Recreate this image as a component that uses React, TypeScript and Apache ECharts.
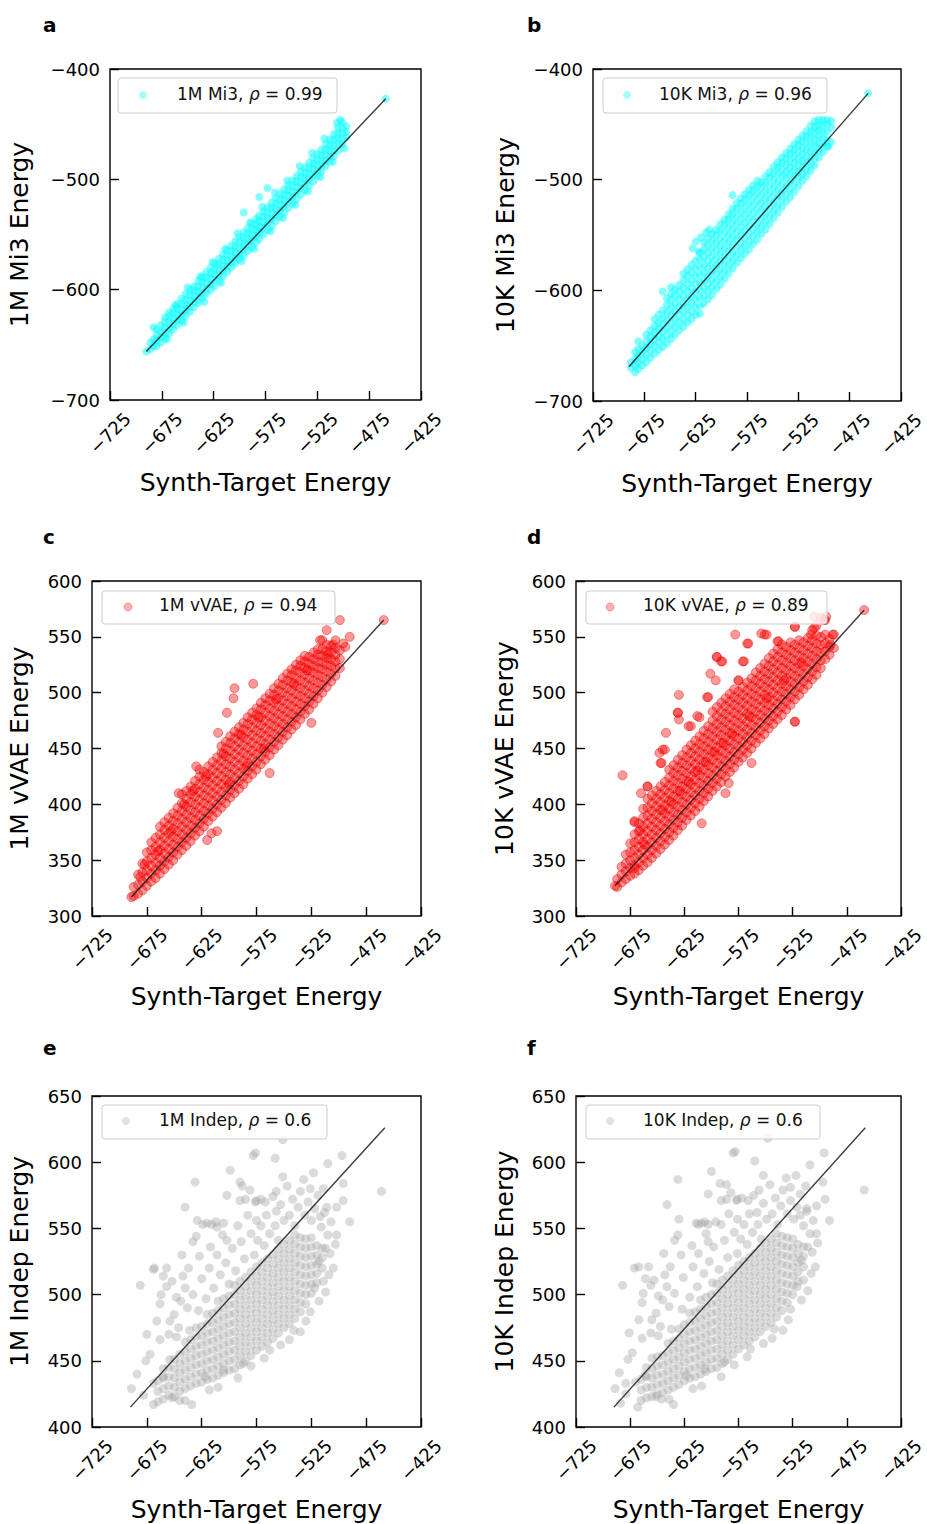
import React, { useEffect, useRef } from "react";
import * as echarts from "echarts";

const FONT = "DejaVu Sans";
const X_MIN = -725;
const X_MAX = -425;
const X_STEP = 50;

// ---------- panel a : 1M Mi3 (rows: [x, y1, y2, ...]) ----------
const mi3_1M_rows: number[][] = [
  [-690, -656], [-686, -654, -648], [-683, -651, -645, -634], [-680, -651, -646, -641, -636],
  [-676, -648, -643, -638, -632], [-672, -644, -639, -634, -629, -625], [-668, -640, -635, -629, -624, -621],
  [-664, -636, -631, -626, -621, -617], [-660, -632, -627, -622, -617, -613], [-656, -628, -623, -618, -613, -608],
  [-652, -624, -619, -614, -609, -604], [-648, -620, -615, -610, -605, -600], [-644, -616, -611, -606, -601, -597],
  [-640, -612, -607, -602, -597, -592], [-636, -608, -603, -598, -593, -588], [-632, -604, -599, -594, -589, -584],
  [-628, -600, -595, -590, -585, -580], [-624, -597, -591, -586, -581, -576], [-620, -592, -587, -582, -577, -572],
  [-616, -588, -583, -578, -573, -568], [-612, -584, -579, -574, -569, -564], [-608, -580, -575, -570, -565, -560],
  [-604, -576, -571, -566, -561, -556], [-600, -572, -567, -562, -557, -552], [-596, -569, -563, -558, -553, -548, -530],
  [-592, -565, -559, -554, -549, -544], [-588, -561, -555, -550, -545, -540], [-584, -557, -551, -546, -541, -536],
  [-581, -554, -548, -543, -538, -533, -516], [-577, -550, -544, -539, -534, -529], [-573, -546, -540, -535, -530, -525, -508],
  [-569, -542, -536, -531, -526, -521], [-565, -538, -532, -527, -522, -517], [-561, -534, -528, -523, -518, -513],
  [-557, -530, -524, -519, -514, -509], [-553, -526, -520, -515, -510, -505], [-549, -522, -516, -511, -506, -501],
  [-545, -518, -512, -507, -502, -497], [-541, -514, -508, -503, -498, -493], [-537, -510, -504, -499, -494, -489],
  [-533, -506, -500, -495, -490, -485], [-529, -502, -496, -491, -486, -481], [-525, -497, -492, -487, -482, -477],
  [-521, -493, -488, -483, -478, -473], [-517, -488, -483, -478, -473, -468], [-513, -484, -479, -474, -469, -464],
  [-509, -479, -474, -469, -464, -459], [-505, -474, -468, -463, -458, -453], [-501, -468, -463, -458, -453, -448],
  [-497, -462, -457, -452], [-459, -427],
];
const mi3_1M_extra: number[][] = [
  [-662, -614], [-650, -598], [-638, -588], [-626, -575], [-614, -563], [-602, -549], [-590, -539], [-578, -525],
  [-566, -512], [-554, -501], [-542, -488], [-530, -476], [-518, -463], [-506, -449], [-503, -446],
  [-670, -645], [-654, -630], [-634, -611], [-618, -594], [-598, -574], [-586, -563], [-570, -547], [-558, -535],
  [-546, -523], [-534, -511], [-522, -498], [-510, -484], [-499, -472],
];
const mi3_1M_fit: number[][] = [[-690, -656], [-459, -427]];

// ---------- panel b : 10K Mi3 ----------
const mi3_10K_rows: number[][] = [
  [-688, -670, -665], [-684, -674, -668, -662, -656], [-681, -671, -665, -659, -653, -646],
  [-677, -668, -662, -656, -650], [-673, -665, -658, -652, -646, -640], [-669, -661, -654, -648, -642, -636],
  [-665, -657, -650, -644, -638, -632, -626], [-661, -654, -647, -641, -635, -629, -622],
  [-657, -651, -644, -637, -631, -625, -618, -601], [-653, -648, -641, -634, -627, -620, -613, -607],
  [-649, -644, -637, -630, -623, -616, -609, -603, -597], [-645, -640, -633, -626, -619, -612, -605, -599],
  [-641, -636, -629, -622, -615, -608, -601, -595], [-637, -633, -626, -619, -612, -605, -598, -591, -585],
  [-633, -629, -622, -615, -608, -601, -594, -587, -581], [-629, -626, -619, -612, -605, -598, -591, -584, -577],
  [-625, -622, -615, -608, -601, -594, -587, -580, -573], [-621, -621, -614, -607, -600, -593, -586, -579, -572, -566],
  [-617, -612, -605, -598, -591, -584, -577, -570, -563, -557], [-613, -608, -601, -594, -587, -580, -573, -566, -559, -553],
  [-609, -604, -597, -590, -583, -576, -569, -562, -555, -549], [-605, -599, -592, -585, -578, -571, -564, -557, -550, -545],
  [-601, -595, -588, -581, -574, -567, -560, -553, -546, -540], [-597, -590, -583, -576, -569, -562, -555, -548, -541, -536],
  [-593, -585, -578, -571, -564, -557, -550, -543, -536, -531], [-589, -580, -573, -566, -559, -552, -545, -538, -531, -526, -514],
  [-585, -575, -568, -561, -554, -547, -540, -533, -526, -521], [-581, -571, -564, -557, -550, -543, -536, -529, -522, -517],
  [-577, -567, -560, -553, -546, -539, -532, -525, -518, -513], [-573, -563, -556, -549, -542, -535, -528, -521, -514, -509],
  [-569, -558, -551, -544, -537, -530, -523, -516, -510, -505], [-565, -554, -547, -540, -533, -526, -519, -512, -506, -501],
  [-561, -549, -542, -535, -528, -521, -514, -507, -502], [-557, -545, -538, -531, -524, -517, -510, -503, -497],
  [-553, -540, -533, -526, -519, -512, -505, -498, -493], [-549, -535, -528, -521, -514, -507, -500, -494, -488],
  [-545, -530, -523, -516, -509, -502, -495, -489, -484], [-541, -525, -518, -511, -504, -497, -491, -485, -480],
  [-537, -520, -513, -506, -499, -493, -487, -481, -476], [-533, -516, -509, -502, -495, -489, -483, -477, -472],
  [-529, -511, -504, -497, -491, -485, -479, -473, -468], [-525, -506, -499, -493, -487, -481, -475, -469, -464],
  [-521, -501, -495, -489, -483, -477, -471, -465, -460], [-517, -497, -491, -485, -479, -473, -467, -461, -456],
  [-513, -492, -486, -480, -474, -468, -462, -457, -451], [-509, -487, -481, -475, -469, -463, -457, -452, -447],
  [-505, -480, -474, -468, -462, -456, -451, -446], [-501, -475, -469, -463, -457, -451, -446],
  [-497, -470, -464, -457, -450, -446], [-493, -466, -453, -447],
];
const mi3_10K_extra: number[][] = [
  [-625, -556], [-620, -552], [-615, -548], [-628, -562], [-612, -545], [-622, -565], [-496, -470], [-457, -422],
];
const mi3_10K_fit: number[][] = [[-690, -669], [-457, -422]];

// ---------- panel c : 1M vVAE ----------
const vvae_1M_rows: number[][] = [
  [-687, 318, 326], [-683, 320, 328, 337], [-679, 323, 331, 339, 347], [-675, 327, 334, 341, 349, 357],
  [-671, 331, 338, 345, 352, 359, 366], [-667, 334, 341, 348, 355, 362, 370], [-663, 338, 345, 352, 359, 366, 373, 380],
  [-659, 342, 349, 356, 363, 370, 377, 384], [-655, 346, 353, 360, 367, 374, 381, 388],
  [-651, 350, 357, 364, 371, 378, 385, 392], [-647, 355, 362, 369, 376, 383, 390, 397],
  [-643, 359, 366, 373, 380, 387, 394, 401, 409], [-639, 363, 370, 377, 384, 391, 398, 405, 412],
  [-635, 367, 374, 381, 388, 395, 402, 409, 416], [-631, 372, 379, 386, 393, 400, 407, 414, 421],
  [-627, 376, 383, 390, 397, 404, 411, 418, 425], [-623, 380, 387, 394, 401, 408, 415, 422, 429],
  [-619, 385, 392, 399, 406, 413, 420, 427, 434], [-615, 389, 396, 403, 410, 417, 424, 431, 438],
  [-611, 393, 400, 407, 414, 421, 428, 435, 442], [-607, 397, 404, 411, 418, 425, 432, 439, 446, 452],
  [-603, 401, 408, 415, 422, 429, 436, 443, 450, 456], [-599, 406, 413, 420, 427, 434, 441, 448, 455, 461],
  [-595, 410, 417, 424, 431, 438, 445, 452, 459, 465], [-591, 414, 421, 428, 435, 442, 449, 456, 463, 469],
  [-587, 418, 425, 432, 439, 446, 453, 460, 467, 473], [-583, 423, 430, 437, 444, 451, 458, 465, 472, 478],
  [-579, 427, 434, 441, 448, 455, 462, 469, 476, 482], [-575, 431, 438, 445, 452, 459, 466, 473, 480, 486],
  [-571, 436, 443, 450, 457, 464, 471, 478, 485, 491], [-567, 440, 447, 454, 461, 468, 475, 482, 489, 495],
  [-563, 444, 451, 458, 465, 472, 479, 486, 493, 499], [-559, 449, 456, 463, 470, 477, 484, 491, 498, 504],
  [-555, 453, 460, 467, 474, 481, 488, 495, 502, 508], [-551, 458, 465, 472, 479, 486, 493, 500, 507, 513],
  [-547, 462, 469, 476, 483, 490, 497, 504, 511, 517], [-543, 467, 474, 481, 488, 495, 502, 509, 516, 521],
  [-539, 471, 478, 485, 492, 499, 506, 513, 520, 525], [-535, 476, 483, 490, 497, 504, 511, 518, 524, 529],
  [-531, 481, 488, 495, 502, 509, 516, 522, 528, 533], [-527, 485, 492, 499, 506, 513, 520, 526, 532],
  [-523, 490, 497, 504, 511, 518, 524, 530, 536], [-519, 495, 502, 509, 516, 522, 528, 534, 539],
  [-515, 500, 507, 514, 521, 527, 533, 539], [-511, 505, 512, 519, 525, 531, 537, 543],
  [-507, 510, 517, 524, 530, 536, 542], [-503, 515, 522, 528, 534, 540, 547], [-499, 522, 530, 538],
];
const vvae_1M_extra: number[][] = [
  [-689, 317], [-681, 335], [-677, 346], [-646, 410], [-627, 431], [-630, 434], [-610, 464], [-602, 482],
  [-595, 504], [-596, 495], [-578, 508], [-611, 376], [-620, 368], [-616, 374], [-563, 428], [-525, 473],
  [-517, 547], [-511, 556], [-499, 565], [-496, 544], [-490, 550], [-494, 541], [-505, 543], [-510, 534],
  [-515, 547], [-459, 565], [-641, 400], [-633, 412], [-621, 425], [-605, 445], [-589, 462], [-573, 478],
  [-557, 494], [-541, 508], [-529, 520], [-653, 376], [-665, 358], [-600, 418], [-584, 434], [-568, 450],
];
const vvae_1M_fit: number[][] = [[-689, 317], [-459, 565]];

// ---------- panel d : 10K vVAE ----------
const vvae_10K_rows: number[][] = [
  [-687, 326, 333], [-683, 330, 337, 344], [-679, 333, 340, 347, 355], [-675, 336, 343, 350, 357, 365],
  [-671, 338, 345, 352, 359, 366, 373, 384], [-667, 341, 348, 355, 362, 369, 376, 383],
  [-663, 345, 352, 359, 366, 373, 380, 388, 396], [-659, 348, 355, 362, 369, 376, 383, 390, 397, 405, 416],
  [-655, 352, 359, 366, 373, 380, 387, 394, 401, 408], [-651, 356, 363, 370, 377, 384, 391, 398, 405, 412],
  [-647, 360, 367, 374, 381, 388, 395, 402, 409, 416, 437], [-643, 364, 371, 378, 385, 392, 399, 406, 413, 420, 449],
  [-639, 368, 375, 382, 389, 396, 403, 410, 417, 424, 431], [-635, 372, 379, 386, 393, 400, 407, 414, 421, 428, 435],
  [-631, 377, 384, 391, 398, 405, 412, 419, 426, 433, 440, 482], [-627, 381, 388, 395, 402, 409, 416, 423, 430, 437, 444],
  [-623, 386, 393, 400, 407, 414, 421, 428, 435, 442, 449], [-619, 390, 397, 404, 411, 418, 425, 432, 439, 446, 453, 470],
  [-615, 394, 401, 408, 415, 422, 429, 436, 443, 450, 457], [-611, 398, 405, 412, 419, 426, 433, 440, 447, 454, 461, 478],
  [-607, 403, 410, 417, 424, 431, 438, 445, 452, 459, 466], [-603, 407, 414, 421, 428, 435, 442, 449, 456, 463, 470, 496],
  [-599, 412, 419, 426, 433, 440, 447, 454, 461, 468, 475, 483], [-595, 416, 423, 430, 437, 444, 451, 458, 465, 472, 479, 487, 532],
  [-591, 420, 427, 434, 441, 448, 455, 462, 469, 476, 483, 491, 528], [-587, 425, 432, 439, 446, 453, 460, 467, 474, 481, 488, 495],
  [-583, 429, 436, 443, 450, 457, 464, 471, 478, 485, 492, 499], [-579, 433, 440, 447, 454, 461, 468, 475, 482, 489, 496, 503],
  [-575, 438, 445, 452, 459, 466, 473, 480, 487, 494, 501, 511], [-571, 442, 449, 456, 463, 470, 477, 484, 491, 498, 505, 528],
  [-567, 446, 453, 460, 467, 474, 481, 488, 495, 502, 509, 544], [-563, 450, 457, 464, 471, 478, 485, 492, 499, 506, 513],
  [-559, 455, 462, 469, 476, 483, 490, 497, 504, 511, 518], [-555, 459, 466, 473, 480, 487, 494, 501, 508, 515, 522],
  [-551, 463, 470, 477, 484, 491, 498, 505, 512, 519, 526, 552], [-547, 468, 475, 482, 489, 496, 503, 510, 517, 524, 531],
  [-543, 472, 479, 486, 493, 500, 507, 514, 521, 528, 535], [-539, 476, 483, 490, 497, 504, 511, 518, 525, 532, 539, 546],
  [-535, 480, 487, 494, 501, 508, 515, 522, 529, 536, 543], [-531, 485, 492, 499, 506, 513, 520, 527, 534, 541],
  [-527, 489, 496, 503, 510, 517, 524, 531, 538, 545], [-523, 494, 501, 508, 515, 522, 529, 536, 543, 559, 474],
  [-519, 498, 505, 512, 519, 526, 533, 540, 547], [-515, 503, 510, 517, 524, 531, 538, 545],
  [-511, 507, 514, 521, 528, 535, 542, 549], [-507, 512, 519, 526, 533, 540, 547, 556],
  [-503, 516, 523, 530, 537, 544, 551, 560], [-499, 522, 529, 536, 543, 550, 567], [-495, 530, 537, 544, 552, 565],
  [-491, 534, 541, 548], [-487, 540, 552],
];
const vvae_10K_extra: number[][] = [
  [-689, 327], [-682, 426], [-671, 385], [-666, 377], [-662, 364], [-671, 343], [-659, 416], [-665, 410],
  [-648, 446], [-646, 437], [-645, 449], [-642, 464], [-631, 482], [-630, 498], [-630, 476], [-621, 470],
  [-613, 479], [-604, 496], [-595, 532], [-590, 528], [-601, 517], [-578, 552], [-566, 544], [-554, 553],
  [-549, 552], [-570, 528], [-575, 511], [-596, 511], [-609, 383], [-587, 410], [-584, 419], [-563, 437],
  [-523, 474], [-508, 552], [-505, 558], [-496, 565], [-488, 552], [-523, 559], [-538, 546], [-490, 543],
  [-505, 568], [-494, 568], [-459, 574], [-645, 395], [-629, 412], [-613, 430], [-597, 447], [-581, 463],
  [-565, 479], [-549, 495], [-533, 511], [-517, 527], [-637, 402], [-621, 420], [-605, 438], [-589, 455],
];
const vvae_10K_fit: number[][] = [[-689, 327], [-459, 574]];

// ---------- panel e : 1M Indep ----------
const indep_1M_rows: number[][] = [
  [-665, 419, 427, 435], [-660, 421, 429, 437, 444], [-655, 424, 431, 438, 445], [-650, 423, 430, 437, 444, 451],
  [-645, 427, 434, 441, 448, 455], [-640, 429, 436, 443, 450, 457, 464], [-635, 431, 438, 445, 452, 459, 466],
  [-630, 433, 440, 447, 454, 461, 468, 475], [-625, 434, 441, 448, 455, 462, 469, 476],
  [-620, 436, 443, 450, 457, 464, 471, 478, 485], [-615, 437, 444, 451, 458, 465, 472, 479, 486],
  [-610, 439, 446, 453, 460, 467, 474, 481, 488, 495], [-605, 441, 448, 455, 462, 469, 476, 483, 490, 497],
  [-600, 443, 450, 457, 464, 471, 478, 485, 492, 499], [-595, 444, 451, 458, 465, 472, 479, 486, 493, 500, 507],
  [-590, 447, 454, 461, 468, 475, 482, 489, 496, 503, 510], [-585, 450, 457, 464, 471, 478, 485, 492, 499, 506, 513],
  [-580, 454, 461, 468, 475, 482, 489, 496, 503, 510, 517], [-575, 458, 465, 472, 479, 486, 493, 500, 507, 514, 521],
  [-570, 461, 468, 475, 482, 489, 496, 503, 510, 517, 524], [-565, 464, 471, 478, 485, 492, 499, 506, 513, 520, 527],
  [-560, 467, 474, 481, 488, 495, 502, 509, 516, 523, 530], [-555, 471, 478, 485, 492, 499, 506, 513, 520, 527, 534],
  [-550, 475, 482, 489, 496, 503, 510, 517, 524, 531, 538], [-545, 478, 485, 492, 499, 506, 513, 520, 527, 534, 541],
  [-540, 482, 489, 496, 503, 510, 517, 524, 531, 538, 545], [-535, 487, 494, 501, 508, 515, 522, 529, 536, 543],
  [-530, 493, 500, 507, 514, 521, 528, 535, 542], [-525, 501, 508, 515, 522, 529, 536, 543],
  [-520, 509, 516, 523, 530, 537], [-515, 520, 528, 535],
];
const indep_1M_extra: number[][] = [
  [-578, 605], [-576, 607], [-551, 617], [-558, 603], [-599, 594], [-631, 585], [-590, 585], [-588, 582],
  [-581, 579], [-640, 566], [-602, 575], [-575, 571], [-567, 570], [-557, 578], [-551, 589], [-532, 587],
  [-523, 592], [-526, 580], [-514, 580], [-510, 599], [-497, 605], [-496, 584], [-496, 571], [-502, 566],
  [-511, 566], [-517, 559], [-490, 555], [-461, 578], [-502, 545], [-508, 531], [-514, 510], [-526, 487],
  [-557, 563], [-575, 556], [-605, 554], [-611, 551], [-630, 544], [-643, 530], [-617, 536], [-602, 541],
  [-627, 529], [-642, 514], [-660, 514], [-669, 519], [-681, 507], [-657, 506], [-648, 498], [-663, 493],
  [-654, 480], [-663, 466], [-648, 468], [-636, 473], [-654, 451], [-660, 438], [-669, 433], [-689, 429],
  [-669, 417], [-634, 417], [-645, 420], [-622, 438], [-605, 443], [-563, 458], [-587, 448], [-541, 473],
  [-668, 520], [-638, 490], [-633, 500], [-628, 488], [-625, 512], [-621, 497], [-618, 520], [-614, 505],
  [-611, 530], [-608, 515], [-606, 545], [-603, 524], [-600, 508], [-597, 535], [-594, 518], [-592, 552],
  [-589, 540], [-586, 527], [-583, 560], [-580, 546], [-577, 530], [-574, 541], [-571, 552], [-568, 537],
  [-566, 560], [-563, 546], [-560, 574], [-558, 552], [-555, 541], [-553, 568], [-550, 556], [-547, 582],
  [-545, 560], [-542, 572], [-540, 552], [-537, 566], [-535, 578], [-531, 560], [-528, 570], [-525, 556],
  [-522, 565], [-519, 575], [-516, 551], [-513, 562], [-510, 545], [-507, 555], [-505, 520], [-503, 538],
  [-518, 525], [-522, 505], [-512, 535], [-624, 553], [-620, 554], [-616, 553], [-612, 555], [-590, 571],
  [-585, 572], [-576, 570], [-571, 572], [-675, 470], [-672, 455], [-666, 480], [-662, 500], [-657, 520],
  [-652, 510], [-650, 485], [-646, 475], [-644, 495], [-640, 505], [-637, 520], [-633, 540], [-629, 556],
  [-684, 440], [-678, 424], [-676, 450], [-655, 470], [-518, 495], [-512, 502], [-509, 515], [-530, 480],
  [-535, 472], [-545, 466], [-553, 462], [-568, 452], [-580, 446], [-592, 437], [-610, 430], [-618, 428],
  [-640, 420], [-652, 422],
];
const indep_1M_fit: number[][] = [[-690, 415], [-458, 626]];

// ---------- panel f : 10K Indep ----------
const indep_10K_rows: number[][] = [
  [-665, 420, 428, 436], [-660, 422, 430, 438, 445], [-655, 423, 430, 437, 444], [-650, 425, 432, 439, 446, 453],
  [-645, 426, 433, 440, 447, 454], [-640, 428, 435, 442, 449, 456, 463], [-635, 430, 437, 444, 451, 458, 465],
  [-630, 432, 439, 446, 453, 460, 467, 474], [-625, 435, 442, 449, 456, 463, 470, 477],
  [-620, 437, 444, 451, 458, 465, 472, 479, 486], [-615, 438, 445, 452, 459, 466, 473, 480, 487],
  [-610, 440, 447, 454, 461, 468, 475, 482, 489, 496], [-605, 442, 449, 456, 463, 470, 477, 484, 491, 498],
  [-600, 444, 451, 458, 465, 472, 479, 486, 493, 500], [-595, 445, 452, 459, 466, 473, 480, 487, 494, 501, 508],
  [-590, 448, 455, 462, 469, 476, 483, 490, 497, 504, 511], [-585, 451, 458, 465, 472, 479, 486, 493, 500, 507, 514],
  [-580, 455, 462, 469, 476, 483, 490, 497, 504, 511, 518], [-575, 459, 466, 473, 480, 487, 494, 501, 508, 515, 522],
  [-570, 462, 469, 476, 483, 490, 497, 504, 511, 518, 525], [-565, 465, 472, 479, 486, 493, 500, 507, 514, 521, 528],
  [-560, 468, 475, 482, 489, 496, 503, 510, 517, 524, 531], [-555, 472, 479, 486, 493, 500, 507, 514, 521, 528, 535],
  [-550, 476, 483, 490, 497, 504, 511, 518, 525, 532, 539], [-545, 479, 486, 493, 500, 507, 514, 521, 528, 535, 542],
  [-540, 483, 490, 497, 504, 511, 518, 525, 532, 539, 546], [-535, 488, 495, 502, 509, 516, 523, 530, 537, 544],
  [-530, 494, 501, 508, 515, 522, 529, 536, 543], [-525, 500, 507, 514, 521, 528, 535, 542],
  [-520, 510, 517, 524, 531, 538], [-515, 521, 529, 536],
];
const indep_10K_extra: number[][] = [
  [-580, 607], [-578, 608], [-548, 618], [-560, 601], [-600, 593], [-631, 587], [-592, 584], [-586, 583],
  [-582, 577], [-641, 568], [-603, 576], [-576, 572], [-566, 571], [-556, 579], [-552, 590], [-531, 588],
  [-522, 590], [-527, 581], [-513, 582], [-509, 598], [-496, 607], [-497, 585], [-495, 572], [-503, 567],
  [-512, 565], [-518, 560], [-491, 556], [-459, 579], [-503, 546], [-507, 532], [-515, 511], [-527, 489],
  [-558, 562], [-576, 557], [-606, 555], [-612, 553], [-631, 545], [-644, 531], [-618, 537], [-603, 540],
  [-628, 530], [-643, 515], [-661, 512], [-671, 520], [-682, 507], [-656, 507], [-649, 499], [-664, 494],
  [-655, 481], [-664, 467], [-649, 469], [-637, 474], [-655, 452], [-661, 439], [-670, 434], [-689, 429],
  [-668, 415], [-635, 417], [-646, 421], [-623, 439], [-606, 444], [-564, 459], [-588, 449], [-542, 474],
  [-667, 521], [-639, 491], [-634, 501], [-627, 489], [-626, 513], [-620, 498], [-617, 521], [-613, 506],
  [-612, 531], [-607, 516], [-605, 546], [-602, 525], [-599, 509], [-598, 536], [-593, 519], [-591, 553],
  [-588, 541], [-585, 528], [-584, 561], [-579, 547], [-576, 531], [-573, 542], [-570, 553], [-567, 538],
  [-565, 561], [-562, 547], [-561, 575], [-557, 553], [-554, 542], [-552, 569], [-549, 557], [-546, 583],
  [-544, 561], [-541, 573], [-539, 553], [-536, 567], [-534, 579], [-530, 561], [-527, 571], [-524, 557],
  [-521, 566], [-518, 576], [-515, 552], [-512, 563], [-509, 546], [-506, 556], [-504, 521], [-502, 539],
  [-517, 526], [-521, 506], [-511, 536], [-614, 554], [-609, 554], [-603, 553], [-596, 555], [-591, 571],
  [-586, 572], [-577, 571], [-572, 573], [-676, 471], [-673, 456], [-667, 481], [-663, 501], [-658, 521],
  [-653, 511], [-651, 486], [-647, 476], [-645, 496], [-641, 506], [-638, 521], [-634, 541], [-630, 557],
  [-685, 441], [-679, 425], [-677, 451], [-656, 471], [-517, 496], [-511, 503], [-508, 516], [-529, 481],
  [-534, 473], [-544, 467], [-552, 463], [-567, 453], [-579, 447], [-591, 438], [-609, 431], [-617, 429],
  [-639, 421], [-651, 423], [-684, 418], [-679, 433],
];
const indep_10K_fit: number[][] = [[-690, 415], [-458, 626]];

// ---------- helpers ----------
function rowsToPoints(rows: number[][], extra: number[][]): number[][] {
  const out: number[][] = [];
  for (const r of rows) for (let i = 1; i < r.length; i++) out.push([r[0], r[i]]);
  return out.concat(extra);
}

const STYLE: Record<string, { color: string; border?: string; size: number; legend: string }> = {
  mi3: { color: "rgba(0,255,255,0.62)", size: 8, legend: "rgba(0,255,255,0.35)" },
  vvae: { color: "rgba(255,0,0,0.5)", border: "rgba(220,0,0,0.5)", size: 9, legend: "rgba(255,0,0,0.3)" },
  indep: { color: "rgba(165,165,165,0.5)", size: 9, legend: "rgba(190,190,190,0.45)" },
};

const panels = [
  { letter: "a", lx: 43, ly: 25, grid: { left: 110, top: 69, width: 311, height: 331 }, y: [-700, -400, 100],
    yName: "1M Mi3 Energy", yGap: 78, xGap: 70, label: "1M Mi3, ", rho: "0.99", kind: "mi3",
    pts: rowsToPoints(mi3_1M_rows, mi3_1M_extra), fit: mi3_1M_fit, box: [118, 78, 219, 35], mk: [143, 95], tx: 177, ty: 93.5 },
  { letter: "b", lx: 527, ly: 25, grid: { left: 593, top: 69, width: 311, height: 332 }, y: [-700, -400, 100],
    yName: "10K Mi3 Energy", yGap: 75, xGap: 70, label: "10K Mi3, ", rho: "0.96", kind: "mi3",
    pts: rowsToPoints(mi3_10K_rows, mi3_10K_extra), fit: mi3_10K_fit, box: [603, 78, 224, 35], mk: [627, 95], tx: 659, ty: 93.5 },
  { letter: "c", lx: 43, ly: 537, grid: { left: 92, top: 581, width: 329, height: 335 }, y: [300, 600, 50],
    yName: "1M vVAE Energy", yGap: 60, xGap: 68, label: "1M vVAE, ", rho: "0.94", kind: "vvae",
    pts: rowsToPoints(vvae_1M_rows, vvae_1M_extra), fit: vvae_1M_fit, box: [102, 591, 233, 33], mk: [128, 607], tx: 159, ty: 605 },
  { letter: "d", lx: 527, ly: 537, grid: { left: 576, top: 581, width: 328, height: 335 }, y: [300, 600, 50],
    yName: "10K vVAE Energy", yGap: 59, xGap: 68, label: "10K vVAE, ", rho: "0.89", kind: "vvae",
    pts: rowsToPoints(vvae_10K_rows, vvae_10K_extra), fit: vvae_10K_fit, box: [586, 591, 241, 33], mk: [610, 607], tx: 643, ty: 605 },
  { letter: "e", lx: 43, ly: 1048, grid: { left: 92, top: 1096, width: 329, height: 331 }, y: [400, 650, 50],
    yName: "1M Indep Energy", yGap: 60, xGap: 70, label: "1M Indep, ", rho: "0.6", kind: "indep",
    pts: rowsToPoints(indep_1M_rows, indep_1M_extra), fit: indep_1M_fit, box: [102, 1105, 225, 34], mk: [126, 1121], tx: 159, ty: 1120 },
  { letter: "f", lx: 527, ly: 1048, grid: { left: 576, top: 1096, width: 328, height: 331 }, y: [400, 650, 50],
    yName: "10K Indep Energy", yGap: 59, xGap: 70, label: "10K Indep, ", rho: "0.6", kind: "indep",
    pts: rowsToPoints(indep_10K_rows, indep_10K_extra), fit: indep_10K_fit, box: [586, 1105, 234, 34], mk: [610, 1121], tx: 643, ty: 1120 },
];

const fmt = (v: number) => (v < 0 ? "\u2212" + Math.abs(v) : String(v));

function buildOption(): any {
  const series: any[] = [];
  const graphics: any[] = [];
  panels.forEach((p, i) => {
    const st = STYLE[p.kind];
    series.push({
      type: "scatter", xAxisIndex: i, yAxisIndex: i, data: p.pts, symbolSize: st.size, silent: true, z: 2,
      itemStyle: { color: st.color, borderColor: st.border || st.color, borderWidth: st.border ? 1 : 0 },
    });
    series.push({
      type: "line", xAxisIndex: i, yAxisIndex: i, data: p.fit, symbol: "none", showSymbol: false, silent: true, z: 3,
      lineStyle: { color: "rgba(25,25,25,0.85)", width: 1.4 },
    });
    graphics.push({
      type: "text", x: p.lx, y: p.ly, z: 100,
      style: { text: p.letter, fontFamily: FONT, fontSize: 20, fontWeight: "bold", fill: "#000", align: "left", verticalAlign: "middle" },
    });
    graphics.push({
      type: "rect", z: 100,
      shape: { x: p.box[0], y: p.box[1], width: p.box[2], height: p.box[3], r: 3 },
      style: { fill: "rgba(255,255,255,0.8)", stroke: "#cccccc", lineWidth: 1 },
    });
    graphics.push({
      type: "circle", z: 101, shape: { cx: p.mk[0], cy: p.mk[1], r: 4 },
      style: { fill: st.legend, stroke: st.border ? st.legend : "none", lineWidth: st.border ? 1 : 0 },
    });
    graphics.push({
      type: "text", x: p.tx, y: p.ty, z: 101,
      style: {
        text: "{n|" + p.label + "}{i|\u03c1}{n| = " + p.rho + "}",
        align: "left", verticalAlign: "middle",
        rich: {
          n: { fontFamily: FONT, fontSize: 17, fill: "#111" },
          i: { fontFamily: FONT, fontSize: 17, fontStyle: "italic", fill: "#111" },
        },
      },
    });
  });

  return {
    animation: false,
    backgroundColor: "#ffffff",
    grid: panels.map((p) => ({ ...p.grid, show: true, borderColor: "#000", borderWidth: 1.4, backgroundColor: "transparent" })),
    xAxis: panels.map((p, i) => ({
      type: "value", gridIndex: i, min: X_MIN, max: X_MAX, interval: X_STEP,
      name: "Synth-Target Energy", nameLocation: "middle", nameGap: p.xGap,
      nameTextStyle: { fontFamily: FONT, fontSize: 25, color: "#000" },
      axisLine: { show: false },
      axisTick: { show: true, inside: true, length: 9, lineStyle: { color: "#000", width: 1.4 } },
      axisLabel: {
        rotate: 45, fontFamily: FONT, fontSize: 18, color: "#000", margin: 33, align: "center", verticalAlign: "middle",
        formatter: fmt, showMinLabel: true, showMaxLabel: true,
      },
      splitLine: { show: false },
    })),
    yAxis: panels.map((p, i) => ({
      type: "value", gridIndex: i, min: p.y[0], max: p.y[1], interval: p.y[2],
      name: p.yName, nameLocation: "middle", nameGap: p.yGap,
      nameTextStyle: { fontFamily: FONT, fontSize: 25, color: "#000" },
      axisLine: { show: false },
      axisTick: { show: true, inside: true, length: 9, lineStyle: { color: "#000", width: 1.4 } },
      axisLabel: { fontFamily: FONT, fontSize: 18, color: "#000", margin: 10, formatter: fmt, showMinLabel: true, showMaxLabel: true },
      splitLine: { show: false },
    })),
    series,
    graphic: { elements: graphics },
  };
}

export default function App() {
  const ref = useRef<HTMLDivElement>(null);
  useEffect(() => {
    if (!ref.current) return;
    const chart = echarts.init(ref.current, undefined, { renderer: "svg" });
    chart.setOption(buildOption());
    return () => chart.dispose();
  }, []);
  return (
    <div
      ref={ref}
      style={{ position: "absolute", left: 0, top: 0, width: 927, height: 1524, background: "#fff" }}
    />
  );
}
